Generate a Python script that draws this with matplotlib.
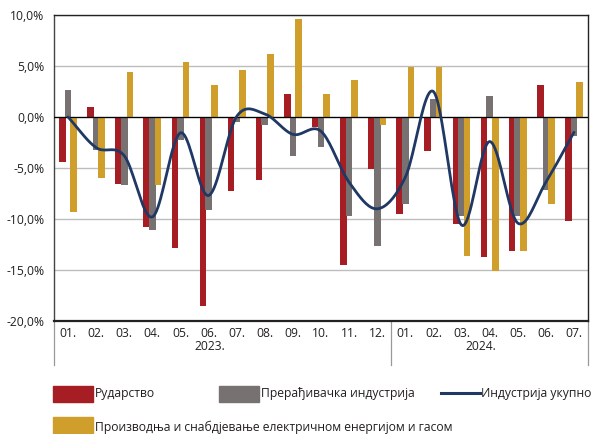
import numpy as np
import matplotlib.pyplot as plt
from matplotlib.patches import Rectangle
from matplotlib.lines import Line2D

plt.rcParams['font.family'] = ['Open Sans', 'DejaVu Sans']

# podaci
meseci = ['01.', '02.', '03.', '04.', '05.', '06.', '07.', '08.', '09.', '10.', '11.', '12.',
          '01.', '02.', '03.', '04.', '05.', '06.', '07.']
godine = ['2023.', '2024.']
rudarstvo = [-4.4, 1.0, -6.6, -10.8, -12.8, -18.5, -7.3, -6.15, 2.3, -1.0, -14.5, -5.1,
             -9.5, -3.35, -10.5, -13.7, -13.1, 3.15, -10.15]
preradjivacka = [2.6, -3.2, -6.65, -11.05, -2.3, -9.1, -0.5, -0.75, -3.8, -2.95, -9.7, -12.6,
                 -8.5, 1.8, -9.7, 2.1, -9.7, -7.2, -1.9]
energija = [-9.35, -6.0, 4.4, -6.65, 5.4, 3.15, 4.6, 6.2, 9.65, 2.3, 3.6, -0.75,
            4.9, 4.9, -13.65, -15.1, -13.1, -8.5, 3.4]
ukupno = [0.0, -3.0, -3.8, -9.8, -1.55, -7.7, 0.05, 0.3, -1.7, -1.4, -6.4, -9.0,
          -5.9, 2.5, -10.6, -2.4, -10.4, -6.4, -1.5]

c_red = '#A61D24'
c_gray = '#777271'
c_gold = '#D09F2B'
c_line = '#1F3864'


def glatko(y, n=20):
    # catmull-rom, kao "smoothed line" u Excelu
    y = np.asarray(y, dtype=float)
    p = np.concatenate([[2 * y[0] - y[1]], y, [2 * y[-1] - y[-2]]])
    xs, ys = [], []
    for i in range(len(y) - 1):
        t = np.linspace(0, 1, n, endpoint=False)
        p0, p1, p2, p3 = p[i], p[i + 1], p[i + 2], p[i + 3]
        yy = 0.5 * ((2 * p1) + (-p0 + p2) * t + (2 * p0 - 5 * p1 + 4 * p2 - p3) * t ** 2
                    + (-p0 + 3 * p1 - 3 * p2 + p3) * t ** 3)
        xs.append(i + t)
        ys.append(yy)
    xs.append([len(y) - 1])
    ys.append([y[-1]])
    return np.concatenate(xs), np.concatenate(ys)


fig = plt.figure(figsize=(5.92, 4.34), dpi=100)
ax = fig.add_axes([54 / 592, 113 / 434, 534 / 592, 306 / 434])

x = np.arange(len(meseci))
w = 0.235
ax.bar(x - 0.2, rudarstvo, w, color=c_red, zorder=2)
ax.bar(x, preradjivacka, w, color=c_gray, zorder=2)
ax.bar(x + 0.2, energija, w, color=c_gold, zorder=2)
xs, ys = glatko(ukupno)
ax.plot(xs, ys, color=c_line, lw=2.0, zorder=4, solid_capstyle='round')

ax.axhline(0, color='black', lw=0.9, zorder=3)
ax.set_xlim(-0.5, len(meseci) - 0.5)
ax.set_ylim(-20, 10)
ax.set_yticks(np.arange(-20, 11, 5))
ax.set_yticklabels([f'{v:.1f}%'.replace('.', ',') for v in np.arange(-20, 11, 5)])
ax.yaxis.grid(True, color='#BDBDBD', lw=1.0, zorder=0)
ax.set_axisbelow(True)
ax.tick_params(axis='y', length=0, pad=7, labelsize=8.7, labelcolor='#231F20')
ax.set_xticks(x)
ax.set_xticklabels(meseci)
ax.tick_params(axis='x', length=0, pad=4, labelsize=8.7, labelcolor='#231F20')
for s in ['top', 'right']:
    ax.spines[s].set_color('#222222')
    ax.spines[s].set_linewidth(1.0)
ax.spines['left'].set_color('#444444')
ax.spines['left'].set_linewidth(1.0)
ax.spines['bottom'].set_color('#222222')
ax.spines['bottom'].set_linewidth(1.6)

# godine i razdjelnici ispod osi
tr = ax.get_xaxis_transform()
for xv in [-0.5, 11.5, 18.5]:
    ax.add_line(Line2D([xv, xv], [0, -44 / 306], transform=tr, color='#999999', lw=0.9, clip_on=False))
ax.text(5.05, -26 / 306, godine[0], transform=tr, ha='center', va='center', fontsize=8.7, color='#231F20')
ax.text(14.7, -26 / 306, godine[1], transform=tr, ha='center', va='center', fontsize=8.7, color='#231F20')

# legenda
def kutija(x0, y0, boja):
    fig.patches.append(Rectangle((x0 / 592, 1 - (y0 + 16) / 434), 40 / 592, 16 / 434,
                                 transform=fig.transFigure, color=boja))

kutija(53, 386, c_red)
fig.text(95 / 592, 1 - 394 / 434, 'Рударство', va='center', fontsize=8.7, color='#231F20')
kutija(219, 386, c_gray)
fig.text(261 / 592, 1 - 394 / 434, 'Прерађивачка индустрија', va='center', fontsize=8.7, color='#231F20')
fig.add_artist(Line2D([441 / 592, 480 / 592], [1 - 393 / 434] * 2, transform=fig.transFigure,
                      color=c_line, lw=2.2))
fig.text(481 / 592, 1 - 394 / 434, 'Индустрија укупно', va='center', fontsize=8.7, color='#231F20')
kutija(53, 417, c_gold)
fig.text(95 / 592, 1 - 427 / 434, 'Производња и снабдјевање електричном енергијом и гасом',
         va='center', fontsize=8.7, color='#231F20')

fig.savefig('out.png', dpi=100)
